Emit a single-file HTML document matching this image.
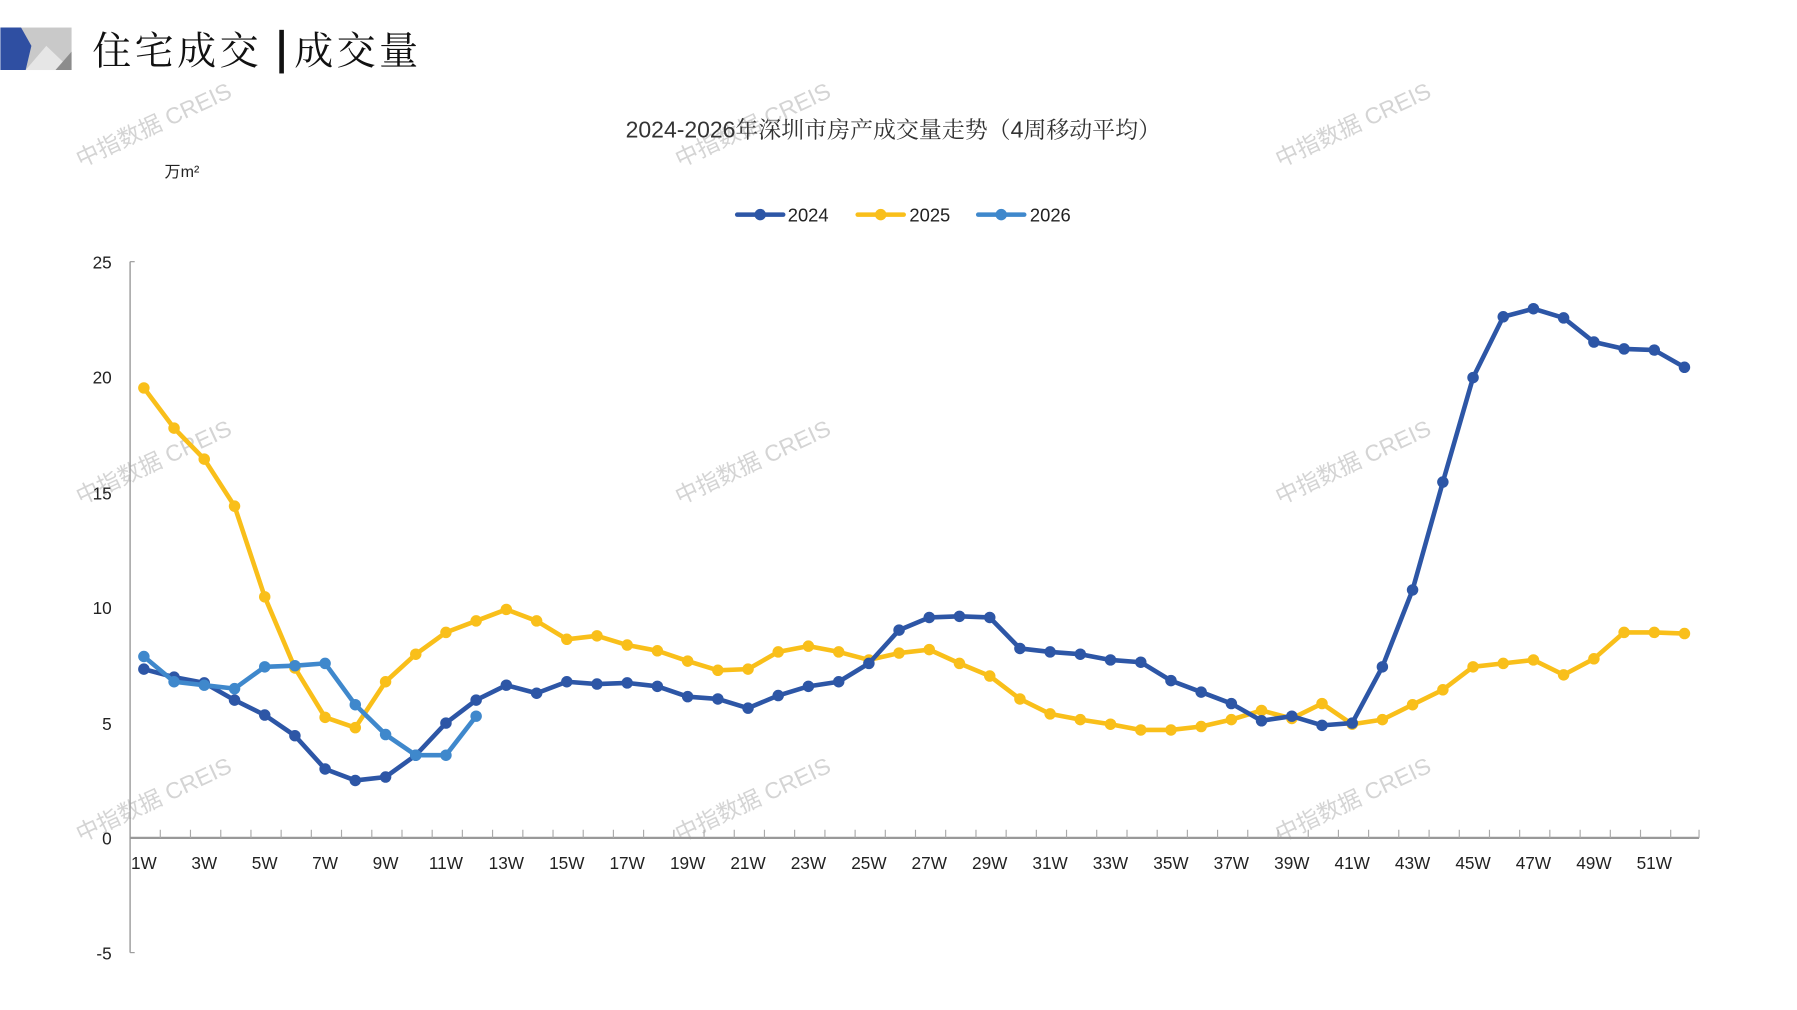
<!DOCTYPE html>
<html><head><meta charset="utf-8"><style>
html,body{margin:0;padding:0;background:#fff;width:1797px;height:1010px;overflow:hidden}
svg{display:block}
.t{font-family:"Liberation Sans","Noto Sans CJK SC",sans-serif;fill:#222}
.wm{font-family:"Liberation Sans","Noto Sans CJK SC",sans-serif;fill:#d4d4d4;font-size:20px}
</style></head><body>
<svg width="1797" height="1010" viewBox="0 0 1565 880" xmlns="http://www.w3.org/2000/svg">
<defs>
<marker id="m1" viewBox="-6 -6 12 12" markerWidth="12" markerHeight="12" markerUnits="userSpaceOnUse"><circle r="5" fill="#2d56a6"/></marker>
<marker id="m2" viewBox="-6 -6 12 12" markerWidth="12" markerHeight="12" markerUnits="userSpaceOnUse"><circle r="5" fill="#f9bf1a"/></marker>
<marker id="m3" viewBox="-6 -6 12 12" markerWidth="12" markerHeight="12" markerUnits="userSpaceOnUse"><circle r="5" fill="#3f88cc"/></marker>
</defs>
<rect x="18" y="24" width="44" height="37" fill="#c9c9c9"/>
<polygon points="22,61 40,40 62,61" fill="#e6e6e6"/>
<polygon points="48,61 62,45 62,61" fill="#8c8c8c"/>
<polygon points="0,24 18,24 27,40 22,61 0,61" fill="#2f4fa2"/>
<text x="80" y="56" style="font-family:'Noto Serif CJK SC',serif;font-size:34px;fill:#111;letter-spacing:3px">住宅成交</text>
<rect x="243" y="26" width="4" height="38" fill="#111"/>
<text x="256" y="56" style="font-family:'Noto Serif CJK SC',serif;font-size:34px;fill:#111;letter-spacing:3px">成交量</text>
<g class="wm">
<text transform="translate(70,146) rotate(-25)">中指数据 CREIS</text>
<text transform="translate(592,146) rotate(-25)">中指数据 CREIS</text>
<text transform="translate(1115,146) rotate(-25)">中指数据 CREIS</text>
<text transform="translate(70,440) rotate(-25)">中指数据 CREIS</text>
<text transform="translate(592,440) rotate(-25)">中指数据 CREIS</text>
<text transform="translate(1115,440) rotate(-25)">中指数据 CREIS</text>
<text transform="translate(70,734) rotate(-25)">中指数据 CREIS</text>
<text transform="translate(592,734) rotate(-25)">中指数据 CREIS</text>
<text transform="translate(1115,734) rotate(-25)">中指数据 CREIS</text>
</g>
<text x="778" y="120" text-anchor="middle" style="font-family:'Liberation Sans','Noto Serif CJK SC',serif;font-size:20px;fill:#333">2024-2026年深圳市房产成交量走势（4周移动平均）</text>
<text class="t" x="143" y="154" style="font-size:14px">万m²</text>
<g stroke-width="4" stroke-linecap="round">
<line x1="642" y1="187" x2="682" y2="187" stroke="#2d56a6"/><circle cx="662" cy="187" r="5" fill="#2d56a6"/>
<line x1="747" y1="187" x2="787" y2="187" stroke="#f9bf1a"/><circle cx="767" cy="187" r="5" fill="#f9bf1a"/>
<line x1="852" y1="187" x2="892" y2="187" stroke="#3f88cc"/><circle cx="872" cy="187" r="5" fill="#3f88cc"/>
</g>
<g class="t" style="font-size:16px">
<text x="686" y="193">2024</text><text x="792" y="193">2025</text><text x="897" y="193">2026</text>
</g>
<line x1="113" y1="228" x2="113" y2="830" stroke="#999" stroke-width="1.2"/>
<line x1="113" y1="228" x2="117" y2="228" stroke="#999"/>
<line x1="113" y1="830" x2="117" y2="830" stroke="#999"/>
<line x1="113" y1="730" x2="1480" y2="730" stroke="#999" stroke-width="2"/>
<path stroke="#aaa" stroke-width="1" d="M139.3 730v-7M165.6 730v-7M192 730v-7M218.3 730v-7M244.6 730v-7M270.9 730v-7M297.2 730v-7M323.6 730v-7M349.9 730v-7M376.2 730v-7M402.5 730v-7M428.8 730v-7M455.2 730v-7M481.5 730v-7M507.8 730v-7M534.1 730v-7M560.4 730v-7M586.8 730v-7M613.1 730v-7M639.4 730v-7M665.7 730v-7M692 730v-7M718.4 730v-7M744.7 730v-7M771 730v-7M797.3 730v-7M823.6 730v-7M850 730v-7M876.3 730v-7M902.6 730v-7M928.9 730v-7M955.2 730v-7M981.6 730v-7M1007.9 730v-7M1034.2 730v-7M1060.5 730v-7M1086.8 730v-7M1113.2 730v-7M1139.5 730v-7M1165.8 730v-7M1192.1 730v-7M1218.4 730v-7M1244.8 730v-7M1271.1 730v-7M1297.4 730v-7M1323.7 730v-7M1350 730v-7M1376.4 730v-7M1402.7 730v-7M1429 730v-7M1455.3 730v-7M1480 730v-7"/>
<g class="t" style="font-size:15px" text-anchor="end">
<text x="97" y="234">25</text><text x="97" y="334">20</text><text x="97" y="435">15</text><text x="97" y="535">10</text><text x="97" y="636">5</text><text x="97" y="736">0</text><text x="97" y="836">-5</text>
</g>
<g class="t" style="font-size:15px" text-anchor="middle">
<text x="125" y="757">1W</text><text x="177.6" y="757">3W</text><text x="230.3" y="757">5W</text><text x="282.9" y="757">7W</text><text x="335.6" y="757">9W</text><text x="388.2" y="757">11W</text><text x="440.8" y="757">13W</text><text x="493.5" y="757">15W</text><text x="546.1" y="757">17W</text><text x="598.8" y="757">19W</text><text x="651.4" y="757">21W</text><text x="704" y="757">23W</text><text x="756.7" y="757">25W</text><text x="809.3" y="757">27W</text><text x="862" y="757">29W</text><text x="914.6" y="757">31W</text><text x="967.2" y="757">33W</text><text x="1019.9" y="757">35W</text><text x="1072.5" y="757">37W</text><text x="1125.2" y="757">39W</text><text x="1177.8" y="757">41W</text><text x="1230.4" y="757">43W</text><text x="1283.1" y="757">45W</text><text x="1335.7" y="757">47W</text><text x="1388.4" y="757">49W</text><text x="1441" y="757">51W</text>
</g>
<g fill="none" stroke-width="4" stroke-linejoin="round" stroke-linecap="round">
<polyline stroke="#f9bf1a" marker-start="url(#m2)" marker-mid="url(#m2)" marker-end="url(#m2)" points="125,338 151.3,373 177.6,400 204,441 230.3,520 256.6,582 282.9,625 309.2,634 335.6,594 361.9,570 388.2,551 414.5,541 440.8,531 467.2,541 493.5,557 519.8,554 546.1,562 572.4,567 598.8,576 625.1,584 651.4,583 677.7,568 704,563 730.4,568 756.7,575 783,569 809.3,566 835.6,578 862,589 888.3,609 914.6,622 940.9,627 967.2,631 993.6,636 1019.9,636 1046.2,633 1072.5,627 1098.8,619 1125.2,626 1151.5,613 1177.8,631 1204.1,627 1230.4,614 1256.8,601 1283.1,581 1309.4,578 1335.7,575 1362,588 1388.4,574 1414.7,551 1441,551 1467.3,552"/>
<polyline stroke="#2d56a6" marker-start="url(#m1)" marker-mid="url(#m1)" marker-end="url(#m1)" points="125,583 151.3,590 177.6,595 204,610 230.3,623 256.6,641 282.9,670 309.2,680 335.6,677 361.9,658 388.2,630 414.5,610 440.8,597 467.2,604 493.5,594 519.8,596 546.1,595 572.4,598 598.8,607 625.1,609 651.4,617 677.7,606 704,598 730.4,594 756.7,578 783,549 809.3,538 835.6,537 862,538 888.3,565 914.6,568 940.9,570 967.2,575 993.6,577 1019.9,593 1046.2,603 1072.5,613 1098.8,628 1125.2,624 1151.5,632 1177.8,630 1204.1,581 1230.4,514 1256.8,420 1283.1,329 1309.4,276 1335.7,269 1362,277 1388.4,298 1414.7,304 1441,305 1467.3,320"/>
<polyline stroke="#3f88cc" marker-start="url(#m3)" marker-mid="url(#m3)" marker-end="url(#m3)" points="125,572 151.3,594 177.6,597 204,600 230.3,581 256.6,580 282.9,578 309.2,614 335.6,640 361.9,658 388.2,658 414.5,624"/>
</g>
</svg>
</body></html>
